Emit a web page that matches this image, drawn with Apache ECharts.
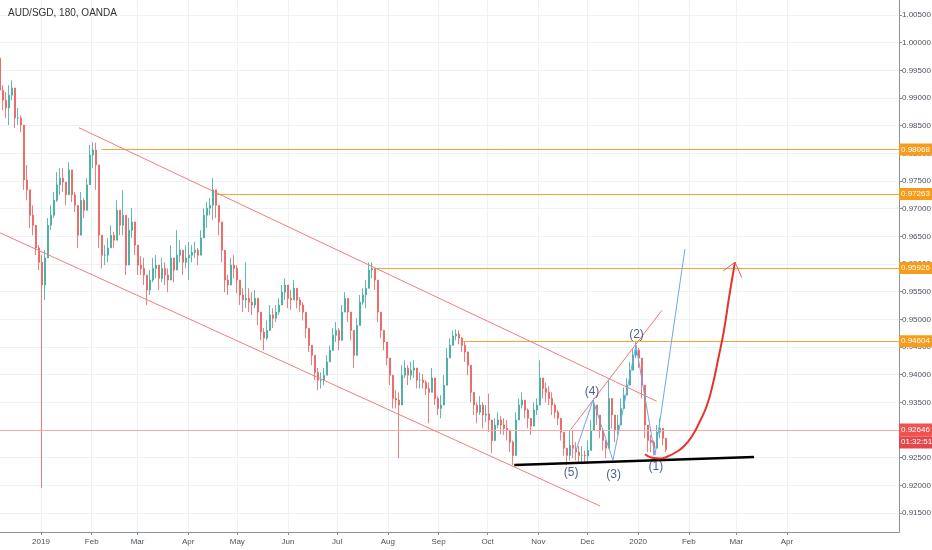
<!DOCTYPE html>
<html>
<head>
<meta charset="utf-8">
<script src="https://cdn.jsdelivr.net/npm/echarts@6/dist/echarts.min.js"></script>
<style>
html,body{margin:0;padding:0;background:#fff}
#Charts{width:932px;height:550px}
</style>
</head>
<body>
<div id="Charts"></div>
<script>
// AUD/SGD 180 min bars (one bar every ~1.8 days)
var barStart = '2018-12-06T22:30:00Z'
var barDays = 1.834
var firstOpen = 0.9972
var barHigh = [0.9981,0.9923,0.9911,0.9923,0.9932,0.9896,0.9882,0.9869,0.9833,0.9779,0.9715,0.9706,0.9661,0.9634,0.9616,0.9625,0.9683,0.9706,0.9730,0.9766,
	0.9773,0.9773,0.9743,0.9784,0.9743,0.9730,0.9683,0.9730,0.9719,0.9755,0.9815,0.9820,0.9819,0.9734,0.9647,0.9634,0.9647,0.9670,0.9658,0.9715,
	0.9694,0.9734,0.9634,0.9683,0.9701,0.9658,0.9621,0.9614,0.9611,0.9574,0.9589,0.9611,0.9616,0.9598,0.9611,0.9603,0.9592,0.9634,0.9611,0.9661,
	0.9643,0.9621,0.9634,0.9640,0.9634,0.9640,0.9629,0.9661,0.9701,0.9712,0.9719,0.9755,0.9725,0.9701,0.9661,0.9603,0.9580,0.9611,0.9616,0.9598,
	0.9567,0.9556,0.9603,0.9556,0.9549,0.9553,0.9535,0.9502,0.9484,0.9498,0.9526,0.9520,0.9526,0.9538,0.9562,0.9574,0.9556,0.9553,0.9571,0.9549,
	0.9540,0.9531,0.9502,0.9475,0.9453,0.9426,0.9412,0.9404,0.9412,0.9435,0.9453,0.9484,0.9495,0.9484,0.9526,0.9549,0.9531,0.9502,0.9462,0.9502,
	0.9544,0.9556,0.9571,0.9603,0.9603,0.9589,0.9538,0.9495,0.9471,0.9448,0.9423,0.9377,0.9372,0.9368,0.9417,0.9426,0.9417,0.9423,0.9426,0.9408,
	0.9404,0.9401,0.9390,0.9386,0.9412,0.9375,0.9361,0.9363,0.9399,0.9448,0.9466,0.9480,0.9482,0.9480,0.9468,0.9459,0.9441,0.9390,0.9361,0.9350,
	0.9361,0.9350,0.9345,0.9366,0.9303,0.9321,0.9332,0.9325,0.9321,0.9318,0.9296,0.9281,0.9332,0.9357,0.9368,0.9354,0.9339,0.9321,0.9350,0.9357,
	0.9426,0.9394,0.9386,0.9379,0.9368,0.9348,0.9336,0.9318,0.9285,0.9267,0.9300,0.9300,0.9278,0.9271,0.9271,0.9263,0.9281,0.9318,0.9357,0.9345,
	0.9321,0.9300,0.9281,0.9390,0.9350,0.9321,0.9327,0.9357,0.9377,0.9394,0.9423,0.9448,0.9460,0.9448,0.9408,0.9345,0.9300,0.9291,0.9281,0.9309,
	0.9321,0.9303,0.9281]
var barLow = [0.9905,0.9878,0.9864,0.9851,0.9896,0.9846,0.9851,0.9838,0.9734,0.9715,0.9665,0.9652,0.9616,0.9589,0.9195,0.9535,0.9625,0.9661,0.9683,0.9712,
	0.9725,0.9730,0.9706,0.9730,0.9712,0.9694,0.9629,0.9697,0.9683,0.9701,0.9766,0.9773,0.9734,0.9629,0.9592,0.9598,0.9603,0.9629,0.9629,0.9665,
	0.9652,0.9652,0.9580,0.9629,0.9647,0.9616,0.9580,0.9580,0.9562,0.9526,0.9544,0.9567,0.9574,0.9553,0.9567,0.9562,0.9549,0.9580,0.9567,0.9592,
	0.9603,0.9580,0.9592,0.9571,0.9603,0.9611,0.9598,0.9625,0.9652,0.9665,0.9688,0.9679,0.9683,0.9652,0.9603,0.9549,0.9544,0.9571,0.9574,0.9547,
	0.9526,0.9513,0.9520,0.9513,0.9508,0.9520,0.9489,0.9462,0.9444,0.9462,0.9484,0.9484,0.9495,0.9508,0.9526,0.9535,0.9520,0.9517,0.9535,0.9520,
	0.9513,0.9498,0.9466,0.9441,0.9417,0.9390,0.9372,0.9375,0.9381,0.9404,0.9426,0.9444,0.9459,0.9444,0.9477,0.9513,0.9495,0.9462,0.9412,0.9459,
	0.9502,0.9526,0.9520,0.9562,0.9574,0.9553,0.9495,0.9466,0.9444,0.9417,0.9381,0.9339,0.9339,0.9249,0.9368,0.9394,0.9381,0.9390,0.9394,0.9375,
	0.9375,0.9375,0.9363,0.9312,0.9375,0.9345,0.9327,0.9321,0.9357,0.9404,0.9437,0.9455,0.9462,0.9455,0.9441,0.9423,0.9399,0.9350,0.9327,0.9312,
	0.9327,0.9303,0.9314,0.9296,0.9258,0.9291,0.9303,0.9292,0.9291,0.9281,0.9260,0.9236,0.9263,0.9329,0.9339,0.9321,0.9303,0.9291,0.9314,0.9327,
	0.9368,0.9357,0.9350,0.9345,0.9327,0.9321,0.9309,0.9281,0.9253,0.9236,0.9245,0.9249,0.9245,0.9242,0.9238,0.9242,0.9238,0.9267,0.9321,0.9309,
	0.9285,0.9263,0.9249,0.9281,0.9303,0.9278,0.9291,0.9321,0.9350,0.9368,0.9390,0.9423,0.9430,0.9412,0.9357,0.9285,0.9260,0.9260,0.9254,0.9278,
	0.9285,0.9272,0.9260]
var barClose = [0.9914,0.9896,0.9882,0.9905,0.9918,0.9864,0.9864,0.9851,0.9752,0.9734,0.9688,0.9670,0.9629,0.9603,0.9562,0.9611,0.9670,0.9688,0.9715,0.9743,
	0.9755,0.9748,0.9725,0.9770,0.9725,0.9706,0.9652,0.9715,0.9697,0.9743,0.9797,0.9806,0.9779,0.9652,0.9616,0.9616,0.9629,0.9652,0.9643,0.9697,
	0.9670,0.9688,0.9598,0.9661,0.9676,0.9634,0.9598,0.9592,0.9580,0.9553,0.9571,0.9592,0.9598,0.9574,0.9592,0.9580,0.9571,0.9611,0.9589,0.9616,
	0.9625,0.9603,0.9611,0.9616,0.9621,0.9625,0.9616,0.9647,0.9688,0.9701,0.9706,0.9734,0.9706,0.9676,0.9625,0.9571,0.9562,0.9598,0.9592,0.9571,
	0.9544,0.9535,0.9538,0.9531,0.9526,0.9538,0.9513,0.9477,0.9466,0.9480,0.9508,0.9502,0.9513,0.9526,0.9549,0.9562,0.9538,0.9535,0.9556,0.9535,
	0.9526,0.9513,0.9484,0.9453,0.9435,0.9404,0.9390,0.9390,0.9399,0.9423,0.9444,0.9471,0.9480,0.9462,0.9513,0.9538,0.9513,0.9480,0.9435,0.9489,
	0.9531,0.9544,0.9556,0.9589,0.9592,0.9571,0.9513,0.9480,0.9459,0.9430,0.9399,0.9357,0.9354,0.9345,0.9399,0.9412,0.9399,0.9408,0.9412,0.9390,
	0.9390,0.9386,0.9375,0.9368,0.9394,0.9357,0.9339,0.9345,0.9381,0.9430,0.9453,0.9470,0.9473,0.9466,0.9453,0.9441,0.9417,0.9368,0.9345,0.9332,
	0.9345,0.9327,0.9329,0.9318,0.9281,0.9309,0.9318,0.9309,0.9303,0.9300,0.9278,0.9254,0.9318,0.9345,0.9354,0.9336,0.9321,0.9307,0.9336,0.9345,
	0.9394,0.9375,0.9368,0.9357,0.9345,0.9332,0.9321,0.9296,0.9267,0.9254,0.9272,0.9267,0.9260,0.9254,0.9254,0.9253,0.9263,0.9300,0.9345,0.9327,
	0.9300,0.9281,0.9267,0.9357,0.9327,0.9300,0.9309,0.9339,0.9363,0.9381,0.9408,0.9435,0.9444,0.9430,0.9381,0.9309,0.9281,0.9278,0.9267,0.9296,
	0.9303,0.9285,0.92646]

// horizontal levels (orange)
var levelPrices = [0.98068, 0.97263, 0.95926, 0.94604]
var levelStarts = ['2019-02-07T00:00:00Z', '2019-04-18T10:00:00Z', '2019-07-23T12:00:00Z', '2019-09-15T07:00:00Z']
var lastPrice = 0.92646
var countdown = '01:32:51'

// drawings
var upperChannel = [['2019-01-24T05:00:00Z', 0.98462], ['2020-01-12T07:00:00Z', 0.93520]]
var lowerChannel = [['2018-12-06T22:30:00Z', 0.96563], ['2019-12-08T17:00:00Z', 0.91626]]
var risingLine = [['2019-11-20T19:00:00Z', 0.93008], ['2020-01-15T14:00:00Z', 0.95165]]
var supportLine = [['2019-10-17T07:00:00Z', 0.92368], ['2020-03-11T19:00:00Z', 0.92512]]
var waveLine = [['2019-11-23T10:00:00Z', 0.92579], ['2019-12-04T10:00:00Z', 0.93538], ['2019-12-16T14:00:00Z', 0.92453],
	['2019-12-30T17:00:00Z', 0.94532], ['2020-01-11T07:00:00Z', 0.92543], ['2020-01-29T14:00:00Z', 0.96268]]
var curvePath = [['2020-01-05T05:00:00Z', 0.92561], ['2020-01-09T12:00:00Z', 0.92498], ['2020-01-14T10:00:00Z', 0.92484],
	['2020-01-19T07:00:00Z', 0.92525], ['2020-01-24T02:00:00Z', 0.92597], ['2020-01-29T00:00:00Z', 0.92706],
	['2020-02-02T22:00:00Z', 0.92887], ['2020-02-07T19:00:00Z', 0.93158], ['2020-02-12T02:00:00Z', 0.93447],
	['2020-02-15T19:00:00Z', 0.93845], ['2020-02-18T19:00:00Z', 0.94261], ['2020-02-22T12:00:00Z', 0.94804],
	['2020-02-25T12:00:00Z', 0.95382], ['2020-02-29T05:00:00Z', 0.96033]]
var arrowHead = [['2020-02-22T02:00:00Z', 0.95876], ['2020-02-29T05:00:00Z', 0.96033], ['2020-03-04T07:00:00Z', 0.95757]]
var waveNames = ['(5)', '(4)', '(3)', '(2)', '(1)']
var waveSpots = [['2019-11-21T00:00:00Z', 0.92236], ['2019-12-03T19:00:00Z', 0.93683], ['2019-12-17T00:00:00Z', 0.92200],
	['2019-12-31T00:00:00Z', 0.94731], ['2020-01-11T21:00:00Z', 0.92345]]

// axes
var xMin = '2018-12-06T22:30:00Z'
var xMax = '2020-06-08T11:00:00Z'
var yMin = 0.91156
var yMax = 1.00771
var xTickDates = ['2019-01-01','2019-02-01','2019-03-01','2019-04-01','2019-05-01','2019-06-01','2019-07-01','2019-08-01',
	'2019-09-01','2019-10-01','2019-11-01','2019-12-01','2020-01-01','2020-02-01','2020-03-01','2020-04-01']
var xTickLabels = ['2019','Feb','Mar','Apr','May','Jun','Jul','Aug','Sep','Oct','Nov','Dec','2020','Feb','Mar','Apr']
var yTicks = [0.915,0.92,0.925,0.93,0.935,0.94,0.945,0.95,0.955,0.96,0.965,0.97,0.975,0.98,0.985,0.99,0.995,1.0,1.005]

var FONT = 'Liberation Sans'
var DAY = 86400000
var t0 = Date.parse(barStart)
var candles = []
var prev = firstOpen
for (var i = 0; i < barClose.length; i++) {
	var o = prev, c = barClose[i]
	candles.push([t0 + i * barDays * DAY, o, c, Math.min(barLow[i], o, c), Math.max(barHigh[i], o, c)])
	prev = c
}

function pts(arr){
	return arr.map(function(p){ return [Date.parse(p[0]), p[1]] })
}

var xTickNums = xTickDates.map(function(d){ return Date.parse(d) })

var levelLines = levelPrices.map(function(p, k){
	return [
		{ coord: [Date.parse(levelStarts[k]), p], label: { formatter: p.toFixed(5) } },
		{ coord: [Date.parse(xMax), p] }
	]
})
levelLines.push({
	yAxis: lastPrice,
	lineStyle: { color: '#f6a9a9', width: 1 },
	label: {
		formatter: '{e|}\n{a|' + lastPrice.toFixed(5) + '}\n{b|' + countdown + '}',
		backgroundColor: 'transparent',
		padding: 0,
		rich: {
			e: { height: 12, fontSize: 8 },
			a: { backgroundColor: '#ef5350', color: '#fff', fontSize: 8, fontFamily: FONT, padding: [2, 2, 2, 2], height: 9, width: 29 },
			b: { backgroundColor: '#e4474b', color: '#fff', fontSize: 8, fontFamily: FONT, padding: [1, 2, 2, 2], height: 9, width: 29 }
		}
	}
})

function drawLine(data, color, width, smooth){
	return {
		type: 'line', data: pts(data), showSymbol: false, symbol: 'none', silent: true, smooth: !!smooth,
		lineStyle: { color: color, width: width }, z: 5
	}
}

var chart = echarts.init(document.getElementById('Charts'))
var option = {
	animation: false,
	backgroundColor: '#ffffff',
	title: {
		text: 'AUD/SGD, 180, OANDA', left: 3, top: 3,
		textStyle: { fontSize: 10, fontWeight: 'normal', color: '#333', fontFamily: 'Liberation Sans' }
	},
	grid: { left: 0, right: 33, top: 0, bottom: 18, outerBoundsMode: 'none', containLabel: false },
	xAxis: {
		type: 'value', min: Date.parse(xMin), max: Date.parse(xMax),
		axisLine: { lineStyle: { color: '#8e9199' } },
		axisTick: { show: true, length: 3, lineStyle: { color: '#8e9199' }, customValues: xTickNums },
		axisLabel: {
			customValues: xTickNums, color: '#4c525e', fontSize: 8, margin: 6, fontFamily: FONT,
			formatter: function(v){
				var k = xTickNums.indexOf(v)
				return k < 0 ? '' : xTickLabels[k]
			}
		},
		splitLine: { show: true, lineStyle: { color: '#eef1f6' } }
	},
	yAxis: {
		type: 'value', position: 'right', min: yMin, max: yMax, scale: true,
		axisLine: { show: true, lineStyle: { color: '#8e9199' } },
		axisTick: { show: true, length: 3, lineStyle: { color: '#8e9199' }, customValues: yTicks },
		axisLabel: {
			customValues: yTicks, color: '#4c525e', fontSize: 8, margin: 3, fontFamily: FONT,
			formatter: function(v){ return v.toFixed(5) }
		},
		splitLine: { show: true, lineStyle: { color: '#eef1f6' } }
	},
	series: [
		{
			type: 'candlestick', data: candles, encode: { x: 0, y: [1, 2, 3, 4] },
			barWidth: 2.2,
			itemStyle: { color: '#3aa99c', color0: '#eb5d5b', borderColor: '#3aa99c', borderColor0: '#eb5d5b', borderWidth: 0.8 },
			markLine: {
				silent: true, symbol: 'none', animation: false,
				lineStyle: { color: '#f7a532', width: 1, type: 'solid' },
				label: {
					show: true, position: 'end', distance: 0, color: '#fff', fontSize: 8, fontFamily: FONT,
					backgroundColor: '#f79b1a', padding: [2, 2, 2, 2], width: 29
				},
				data: levelLines
			}
		},
		drawLine(upperChannel, '#f07d7d', 1),
		drawLine(lowerChannel, '#f07d7d', 1),
		drawLine(risingLine, '#f27474', 1),
		drawLine(waveLine, '#6ea6ee', 1),
		drawLine(supportLine, '#000000', 2.5),
		drawLine(curvePath, '#e8312b', 2, true),
		drawLine(arrowHead, '#ee5a52', 1),
		{
			type: 'scatter', symbolSize: 0, silent: true, z: 6,
			data: waveSpots.map(function(p, k){ return { value: [Date.parse(p[0]), p[1]], name: waveNames[k] } }),
			label: { show: true, position: 'inside', formatter: '{b}', color: '#223a6e', fontSize: 12, fontFamily: 'Liberation Sans' }
		}
	]
}
chart.setOption(option)
</script>
</body>
</html>
